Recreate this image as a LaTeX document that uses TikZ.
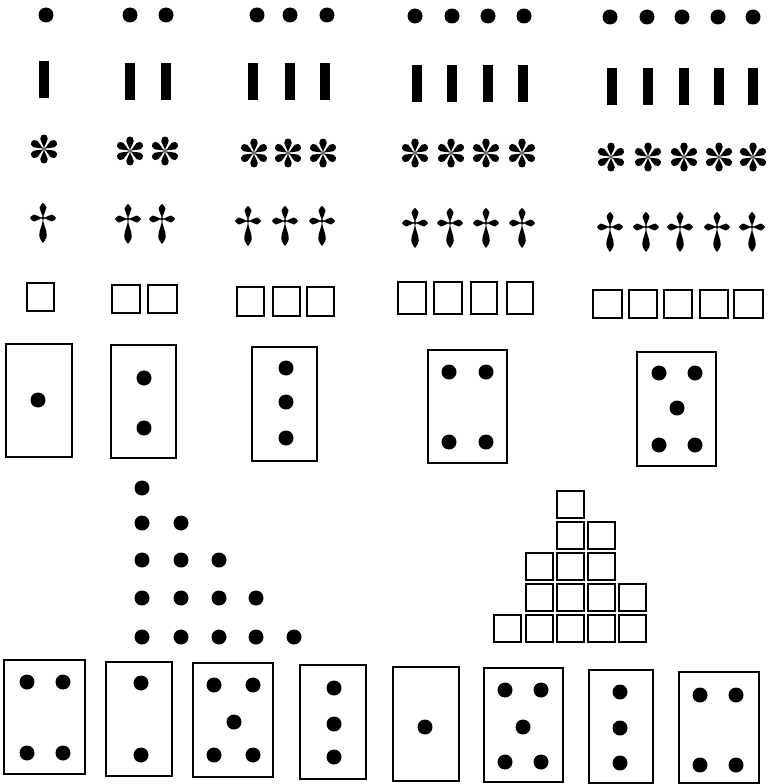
\documentclass[tikz,border=0pt]{standalone}
\usepackage{tikz}

\begin{document}
\begin{tikzpicture}[x=1pt,y=-1pt,
  box/.style={line width=1.2pt},
  pip/.style={fill=black},
  pics/petal/.style args={#1/#2}{code={
    \fill (0,0) .. controls ({.35*#1},{.06*#2}) and ({.45*#1},{.5*#2}) .. ({.7*#1},{.5*#2})
      .. controls ({.9*#1},{.5*#2}) and (#1,{.28*#2}) .. (#1,0)
      .. controls (#1,{-.28*#2}) and ({.9*#1},{-.5*#2}) .. ({.7*#1},{-.5*#2})
      .. controls ({.45*#1},{-.5*#2}) and ({.35*#1},{-.06*#2}) .. (0,0) -- cycle;}},
  pics/spade/.style args={#1/#2}{code={
    \fill (0,0) .. controls ({.35*#1},{.1*#2}) and ({.45*#1},{.5*#2}) .. ({.7*#1},{.5*#2})
      .. controls ({.85*#1},{.45*#2}) and ({.95*#1},{.1*#2}) .. (#1,0)
      .. controls ({.95*#1},{-.1*#2}) and ({.85*#1},{-.45*#2}) .. ({.7*#1},{-.5*#2})
      .. controls ({.45*#1},{-.5*#2}) and ({.35*#1},{-.1*#2}) .. (0,0) -- cycle;}},
  pics/asterisk/.style={code={
    \foreach \a in {30,90,...,330} \pic[rotate=\a] {petal=14.5/7.5};}},
  pics/dagger/.style={code={
    \pic[rotate=90] {spade=15/7};
    \pic[rotate=0] {spade=13/7};
    \pic[rotate=180] {spade=13/7};
    \pic[rotate=-90] {spade=25/7.5};
    \fill (0,0) circle (1.8pt);}}
]
\useasboundingbox (0,0) rectangle (769,784);

% row of dots
\foreach \x/\y in {46/15, 130/15, 166/15, 257/15, 290/15, 327/15,
    415/16, 452/16, 488/16, 524/16, 610/17, 647/17, 682/17, 718/17, 753/17}
  \fill[pip] (\x,\y) circle (7.5pt);

% row of bars
\foreach \x/\y in {44/61, 130/63, 166/63, 253/63, 290/63, 325/63,
    417/65, 452/65, 488/65, 523/65, 612/68, 648/68, 684/68, 719/68, 753/68}
  \fill (\x-5,\y) rectangle ++(10,37);

% row of asterisks
\foreach \x/\y in {44/149, 130/151, 165/151, 254/153, 288/153, 323/153,
    415/153, 451/153, 486/153, 522/153, 611/157, 648/157, 684/157, 719/157, 753/157}
  \pic at (\x,\y) {asterisk};

% row of crosses
\foreach \x/\y in {43/218, 128/219, 162/219, 248/221, 285/221, 322/221,
    415/223, 450/223, 486/223, 522/223, 610/227, 646/227, 680/227, 717/227, 752/227}
  \pic at (\x,\y) {dagger};

% row of squares
\foreach \x/\y/\w/\h in {27/283/27/28, 112/285/28/28, 148/285/29/28,
    237/287/27/29, 273/287/27/29, 307/287/27/29,
    398/282/28/32, 434/282/28/32, 471/282/26/32, 507/282/26/32,
    593/290/29/28, 629/290/28/28, 664/290/28/28, 700/290/28/28, 734/290/29/28}
  \draw[box] (\x,\y) rectangle ++(\w,\h);

% dominoes, first row
\draw[box] (6,344) rectangle (72,457);
\fill[pip] (38,400) circle (7.5pt);
\draw[box] (111,345) rectangle (176,458);
\foreach \y in {378,428} \fill[pip] (144,\y) circle (7.5pt);
\draw[box] (252,347) rectangle (317,461);
\foreach \y in {368,402,438} \fill[pip] (286,\y) circle (7.5pt);
\draw[box] (428,350) rectangle (507,463);
\foreach \x/\y in {449/372, 486/372, 449/442, 486/442} \fill[pip] (\x,\y) circle (7.5pt);
\draw[box] (637,352) rectangle (716,466);
\foreach \x/\y in {659/373, 695/373, 677/408, 659/445, 695/445} \fill[pip] (\x,\y) circle (7.5pt);

% triangle of dots
\foreach \x/\y in {142/488,
    142/523, 181/523,
    142/560, 181/560, 219/560,
    142/598, 181/598, 219/598, 256/598,
    142/637, 181/637, 219/637, 256/637, 294/637}
  \fill[pip] (\x,\y) circle (7.5pt);

% stair of squares
\foreach \x/\y in {557/491,
    557/522, 588/522,
    526/553, 557/553, 588/553,
    526/584, 557/584, 588/584, 619/584,
    494/615, 526/615, 557/615, 588/615, 619/615}
  \draw[box] (\x,\y) rectangle ++(27,27);

% dominoes, second row
\draw[box] (4,660) rectangle (85,774);
\foreach \x/\y in {27/682, 63/682, 27/753, 63/753} \fill[pip] (\x,\y) circle (7.5pt);
\draw[box] (106,662) rectangle (172,776);
\foreach \y in {683,755} \fill[pip] (141,\y) circle (7.5pt);
\draw[box] (193,663) rectangle (273,777);
\foreach \x/\y in {214/685, 253/685, 234/722, 214/755, 253/755} \fill[pip] (\x,\y) circle (7.5pt);
\draw[box] (300,665) rectangle (366,779);
\foreach \y in {688,724,757} \fill[pip] (334,\y) circle (7.5pt);
\draw[box] (393,667) rectangle (459,781);
\fill[pip] (425,727) circle (7.5pt);
\draw[box] (484,668) rectangle (563,782);
\foreach \x/\y in {505/690, 541/690, 523/727, 505/762, 541/762} \fill[pip] (\x,\y) circle (7.5pt);
\draw[box] (589,670) rectangle (653,783);
\foreach \y in {692,728,763} \fill[pip] (620,\y) circle (7.5pt);
\draw[box] (679,672) rectangle (759,783);
\foreach \x/\y in {700/695, 736/695, 700/765, 736/765} \fill[pip] (\x,\y) circle (7.5pt);
\end{tikzpicture}
\end{document}
